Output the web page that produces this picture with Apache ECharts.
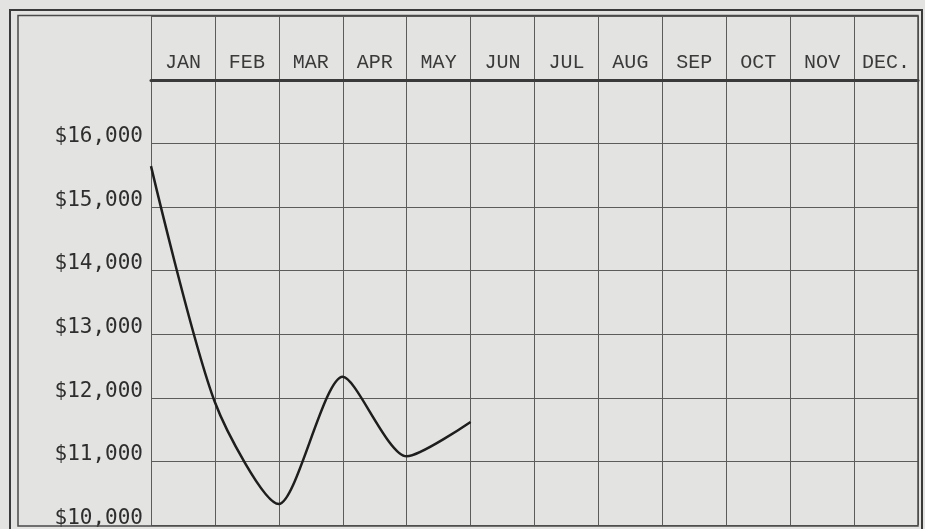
<!DOCTYPE html>
<html>
<head>
<meta charset="utf-8">
<script src="https://cdn.jsdelivr.net/npm/echarts@6/dist/echarts.min.js"></script>
<style>
html,body{margin:0;padding:0;background:#e3e3e1;}
#chart{width:925px;height:529px;}
</style>
</head>
<body>
<div id="chart"></div>
<script>
// Month column headings
const months = ['JAN','FEB','MAR','APR','MAY','JUN','JUL','AUG','SEP','OCT','NOV','DEC.'];
// Positions of plotted points on the month grid (0 = start of JAN column)
const pointPos = [0, 1, 2, 3, 4, 5];
// Plotted dollar values
const balances = [15640, 11930, 10330, 12330, 11080, 11620];
// Dollar tick labels shown at the left
const dollarTicks = [10000, 11000, 12000, 13000, 14000, 15000, 16000];

const chart = echarts.init(document.getElementById('chart'), null, {renderer: 'canvas'});
const gridCol = '#5c5c5a';
const ink = '#2e2e2e';

chart.setOption({
  backgroundColor: '#e3e3e1',
  animation: false,
  grid: {left: 151, right: 7, top: 16, bottom: 3, containLabel: false},
  xAxis: [
    {
      type: 'category',
      data: months,
      position: 'top',
      offset: -64,
      boundaryGap: true,
      axisLine: {show: true, lineStyle: {color: '#3a3a3a', width: 3}},
      axisTick: {show: false},
      splitLine: {show: false},
      axisLabel: {
        margin: 7,
        fontFamily: 'Liberation Mono',
        fontSize: 20,
        color: '#3a3a3a',
        interval: 0
      }
    },
    {
      type: 'value',
      min: 0,
      max: 12,
      interval: 1,
      position: 'bottom',
      axisLine: {show: false},
      axisTick: {show: false},
      axisLabel: {show: false},
      splitLine: {show: true, lineStyle: {color: gridCol, width: 1}}
    }
  ],
  yAxis: {
    type: 'value',
    min: 10000,
    max: 18000,
    interval: 1000,
    axisLine: {show: false},
    axisTick: {show: false},
    splitLine: {show: true, lineStyle: {color: gridCol, width: 1}},
    axisLabel: {
      margin: 8,
      fontFamily: 'DejaVu Sans Mono',
      fontSize: 21,
      color: ink,
      verticalAlign: 'bottom',
      padding: [0, 0, -4, 0],
      formatter: function (v) {
        if (dollarTicks.indexOf(v) < 0) return '';
        return '$' + echarts.format.addCommas(v);
      }
    }
  },
  graphic: [
    {type: 'rect', silent: true, z: 100,
      shape: {x: 10, y: 10, width: 912, height: 530},
      style: {fill: 'none', stroke: '#3a3a3a', lineWidth: 2}},
    {type: 'rect', silent: true, z: 100,
      shape: {x: 18, y: 15.5, width: 900, height: 510.5},
      style: {fill: 'none', stroke: '#4a4a4a', lineWidth: 1.5}}
  ],
  series: [{
    type: 'line',
    xAxisIndex: 1,
    data: pointPos.map((p, i) => [p, balances[i]]),
    smooth: 0.25,
    showSymbol: false,
    lineStyle: {color: '#1e1e1e', width: 2.5},
    z: 10
  }]
});
</script>
</body>
</html>
